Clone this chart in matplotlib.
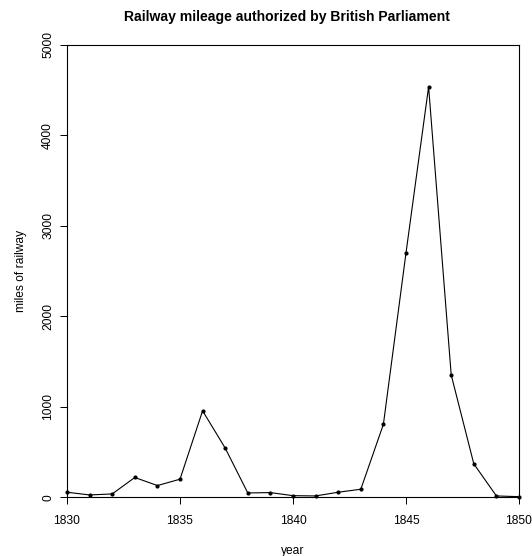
import matplotlib
matplotlib.use("Agg")
import matplotlib.pyplot as plt

years = list(range(1830, 1851))
miles = [56, 26, 37, 219, 130, 200, 956, 544, 48, 52, 18, 15, 56, 89, 807,
         2702, 4538, 1353, 370, 15, 7]
xticks = [1830, 1835, 1840, 1845, 1850]
yticks = [0, 1000, 2000, 3000, 4000, 5000]

plt.rcParams['font.family'] = ['Liberation Sans', 'DejaVu Sans']
fig = plt.figure(figsize=(5.32, 5.56), dpi=100)
ax = fig.add_axes([67/532, 1 - 497.3/556, (519 - 67)/532, (497.3 - 45)/556])
ax.plot(years, miles, color='black', linewidth=0.8, marker='o', markersize=2.0,
        clip_on=False)
ax.set_xlim(1830, 1850)
ax.set_ylim(0, 5000)
ax.set_xticks(xticks)
ax.set_yticks(yticks)
ax.set_xticklabels([str(t) for t in xticks], fontsize=8.64)
ax.set_yticklabels([str(t) for t in yticks], fontsize=8.64, rotation=90, va='center')
ax.tick_params(direction='out', length=5.2, width=0.72)
ax.tick_params(axis='x', pad=7.2)
ax.tick_params(axis='y', pad=4)
for s in ax.spines.values():
    s.set_linewidth(0.8)
ax.set_xlabel('year', fontsize=8.64, labelpad=13)
ax.set_ylabel('miles of railway', fontsize=8.64, labelpad=11)
fig.text(287/532, 1 - 17/556, 'Railway mileage authorized by British Parliament',
         ha='center', va='center', fontsize=10.1, fontweight='bold')
fig.savefig('out.png', dpi=100)
